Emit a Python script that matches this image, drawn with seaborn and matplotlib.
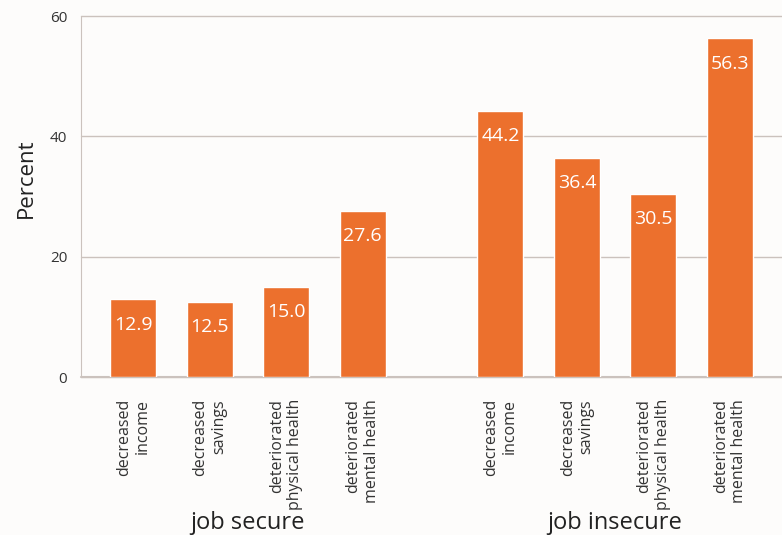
import numpy as np
import pandas as pd
import matplotlib.pyplot as plt
import matplotlib.transforms as mtransforms
import seaborn as sns

# Values
categories = ['decreased\nincome', 'decreased\nsavings',
              'deteriorated\nphysical health', 'deteriorated\nmental health']
groups = ['job secure', 'job insecure']
secure = [12.9, 12.5, 15.0, 27.6]
insecure = [44.2, 36.4, 30.5, 56.3]

# x positions: four bars per group, a gap between groups
gap = 1.8
pos = [i for i in range(len(categories))] + [i + len(categories) - 1 + gap for i in range(len(categories))]
df = pd.DataFrame({'pos': pos,
                   'value': secure + insecure,
                   'label': categories * 2,
                   'group': [groups[0]] * 4 + [groups[1]] * 4})

sns.set_style('white')
plt.rcParams['font.family'] = ['Open Sans', 'DejaVu Sans']
bar_color = '#ec702d'
grid_color = '#cbc2bd'

fig = plt.figure(figsize=(7.82, 5.35), dpi=100)
fig.patch.set_facecolor('#fdfcfb')
ax = fig.add_axes([0.1036, 0.2953, 0.8964, 0.6747])
ax.set_facecolor('#fdfcfb')

sns.barplot(data=df, x='pos', y='value', native_scale=True, width=0.6,
            color=bar_color, saturation=1, ax=ax, zorder=3)

# value labels inside the bars, near the top
for x, v in zip(df['pos'], df['value']):
    ax.text(x, v - 4.2, f'{v:.1f}', color='white', ha='center', va='center',
            fontsize=14, zorder=4)

ax.set_ylim(0, 60)
ax.set_xlim(-0.68, 8.48)
ax.set_yticks([0, 20, 40, 60])
ax.yaxis.grid(True, color=grid_color, lw=1, clip_on=False)
ax.axhline(0, color=grid_color, lw=1.5, clip_on=False, zorder=2)
ax.set_axisbelow(True)
for s in ['top', 'right', 'bottom']:
    ax.spines[s].set_visible(False)
ax.spines['left'].set_color(grid_color)
ax.tick_params(axis='y', length=7, color=grid_color, labelsize=11, labelcolor='#333333', pad=3)
ax.set_ylabel('Percent', fontsize=16, color='#222222')
ax.yaxis.set_label_coords(-0.063, 0.55)
ax.set_xlabel('')

ax.set_xticks(df['pos'])
ax.set_xticklabels(df['label'], rotation=90, multialignment='right', va='top',
                   fontsize=11.5, color='#333333')
ax.tick_params(axis='x', length=0, pad=16)

# group names under each block of bars
trans = mtransforms.blended_transform_factory(ax.transData, fig.transFigure)
for g in groups:
    sub = df[df['group'] == g]
    ax.text(sub['pos'].mean(), 0.022, g, transform=trans,
            ha='center', va='center', fontsize=17, color='#222222')

fig.savefig('out.png', dpi=100, facecolor=fig.get_facecolor())
